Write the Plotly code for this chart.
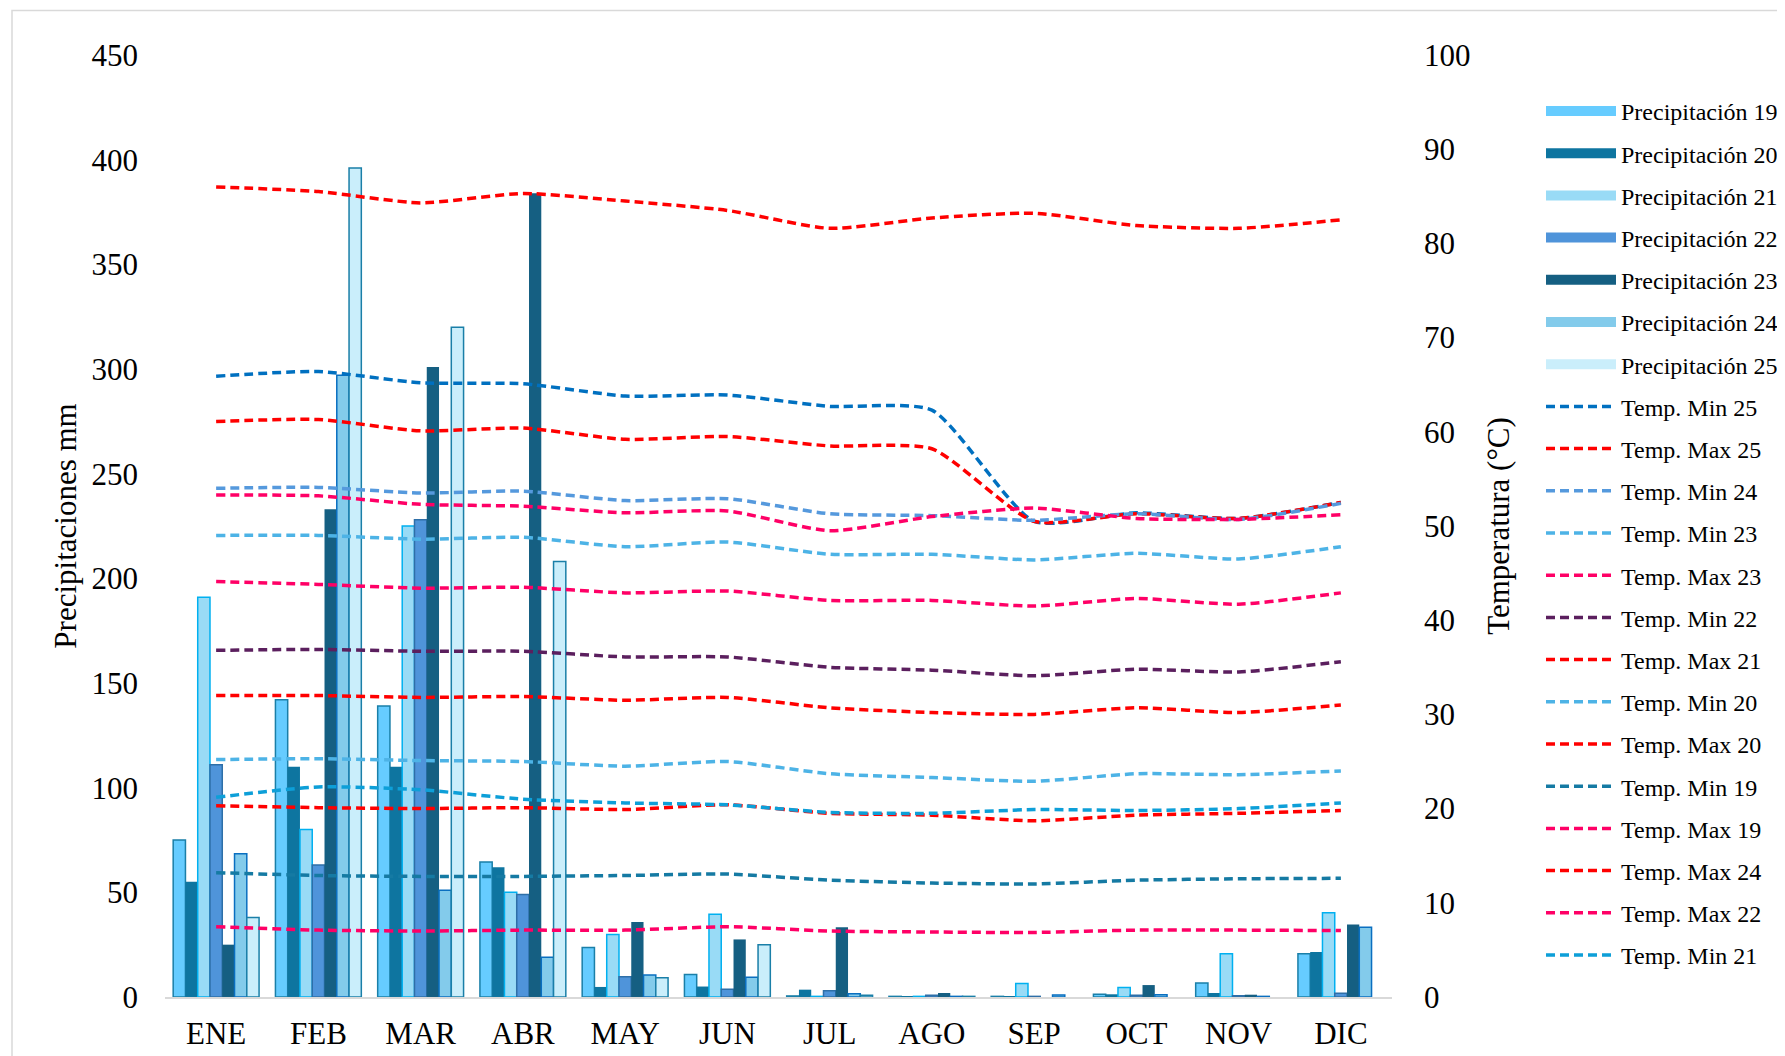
import plotly.graph_objects as go

months = ['ENE', 'FEB', 'MAR', 'ABR', 'MAY', 'JUN', 'JUL', 'AGO', 'SEP', 'OCT', 'NOV', 'DIC']

# Precipitation (mm)
p19 = [75, 142, 139, 64.5, 23.6, 10.7, 0.5, 0.3, 0.3, 1.3, 6.7, 20.7]
p20 = [55, 110, 110, 62, 4.8, 5.0, 3.5, 0.3, 0.3, 1.3, 1.9, 21.5]
p21 = [191, 80, 225, 50, 29.9, 39.5, 0.3, 0.3, 6.4, 4.5, 20.7, 40.3]
p22 = [111, 63, 228, 49, 9.7, 3.7, 3.0, 0.8, 0.3, 0.8, 0.6, 1.8]
p23 = [25, 233, 301, 384, 35.8, 27.5, 33.3, 1.9, None, 5.7, 1.1, 34.6]
p24 = [68.4, 297, 51, 19, 10.5, 9.4, 1.6, 0.3, 1.0, 1.1, 0.3, 33.3]
p25 = [38, 396, 320, 208, 9.2, 25, 0.8, 0.3, None, None, None, None]

# Temperatures (°C, secondary axis)
tmin25 = [65.9, 66.4, 65.2, 65.1, 63.8, 63.9, 62.7, 62.3, 50.5, 51.4, 50.8, 52.5]
tmax25 = [61.1, 61.3, 60.1, 60.4, 59.2, 59.5, 58.5, 58.2, 50.5, 51.3, 50.8, 52.5]
tmin24 = [54.0, 54.1, 53.5, 53.7, 52.7, 52.9, 51.3, 51.1, 50.6, 51.3, 50.7, 52.4]
tmin23 = [49.0, 49.0, 48.6, 48.8, 47.8, 48.3, 47.0, 47.0, 46.4, 47.1, 46.5, 47.8]
tmax23 = [53.3, 53.2, 52.3, 52.1, 51.4, 51.6, 49.5, 51.0, 51.9, 50.8, 50.7, 51.2]
tmin22 = [36.8, 36.9, 36.7, 36.7, 36.1, 36.1, 35.0, 34.7, 34.1, 34.8, 34.5, 35.6]
tmax21 = [32.0, 32.0, 31.8, 31.9, 31.5, 31.8, 30.7, 30.2, 30.0, 30.7, 30.2, 31.0]
tmin20 = [25.2, 25.3, 25.1, 25.0, 24.5, 25.0, 23.7, 23.3, 22.9, 23.7, 23.6, 24.0]
tmax20 = [20.3, 20.1, 20.0, 20.1, 19.9, 20.4, 19.5, 19.3, 18.7, 19.3, 19.5, 19.8]
tmin19 = [13.2, 12.9, 12.8, 12.8, 12.9, 13.05, 12.4, 12.1, 12.0, 12.4, 12.55, 12.6]
tmax19 = [7.46, 7.1, 7.0, 7.1, 7.1, 7.46, 7.0, 6.9, 6.85, 7.1, 7.1, 7.05]
tmax24 = [86.0, 85.5, 84.3, 85.3, 84.5, 83.5, 81.6, 82.7, 83.2, 81.9, 81.6, 82.5]
tmax22 = [44.1, 43.8, 43.4, 43.5, 42.9, 43.1, 42.1, 42.1, 41.5, 42.3, 41.7, 42.9]
tmin21 = [21.2, 22.3, 22.0, 21.0, 20.6, 20.4, 19.6, 19.5, 19.9, 19.8, 20.0, 20.6]

bars = [
    ('Precipitación 19', p19, '#66CCFF', '#1A7FA8', 1.5),
    ('Precipitación 20', p20, '#0E75A0', '#0E75A0', 0),
    ('Precipitación 21', p21, '#99DBF6', '#00B0F0', 1.5),
    ('Precipitación 22', p22, '#4F94DA', '#2E6FA8', 1.5),
    ('Precipitación 23', p23, '#155F82', '#155F82', 0),
    ('Precipitación 24', p24, '#83CBEB', '#0A6FC0', 1.5),
    ('Precipitación 25', p25, '#CAEEFB', '#1A7FA8', 1.5),
]

lines = [
    ('Temp. Min 25', tmin25, '#0070C0'),
    ('Temp. Max 25', tmax25, '#FF0000'),
    ('Temp. Min 24', tmin24, '#5599DD'),
    ('Temp. Min 23', tmin23, '#4DB3E6'),
    ('Temp. Max 23', tmax23, '#FF0066'),
    ('Temp. Min 22', tmin22, '#5B1F5E'),
    ('Temp. Max 21', tmax21, '#FF0000'),
    ('Temp. Min 20', tmin20, '#4DB3E6'),
    ('Temp. Max 20', tmax20, '#FF0000'),
    ('Temp. Min 19', tmin19, '#157AA3'),
    ('Temp. Max 19', tmax19, '#FF0066'),
    ('Temp. Max 24', tmax24, '#FF0000'),
    ('Temp. Max 22', tmax22, '#FF0066'),
    ('Temp. Min 21', tmin21, '#0D9FD8'),
]

FONT = 'Liberation Serif'
fig = go.Figure()

for i, (name, vals, fill, border, bw) in enumerate(bars):
    fig.add_trace(go.Bar(
        x=months, y=vals, name=name, yaxis='y',
        marker=dict(color=fill, line=dict(color=border, width=bw)),
        legendgroup='b%02d' % i, showlegend=False,
    ))
    # legend entry drawn as a wide swatch (no data, legend only)
    fig.add_trace(go.Scatter(
        x=[None], y=[None], name=name, mode='lines', yaxis='y',
        line=dict(color=fill, width=10),
        legendgroup='b%02d' % i, legendrank=i + 1, hoverinfo='skip',
    ))

for j, (name, vals, color) in enumerate(lines):
    fig.add_trace(go.Scatter(
        x=months, y=vals, name=name, yaxis='y2', mode='lines',
        line=dict(color=color, width=3.5, dash='9px,5px', shape='spline', smoothing=0.6),
        legendgroup='l%02d' % j, legendrank=20 + j,
    ))

# page has an 8px body margin; shift everything to compensate
OFF = 8
W, H = 1785 - OFF, 1056 - OFF
L, R, T, B = 165 - OFF, 1392 - OFF, 54.6 - OFF, 997 - OFF

fig.update_layout(
    width=W, height=H,
    margin=dict(l=L, r=W - R, t=T, b=H - B, pad=0, autoexpand=False),
    paper_bgcolor='white', plot_bgcolor='white',
    font=dict(family=FONT, size=31, color='black'),
    barmode='group', bargap=0.16, bargroupgap=0,
    xaxis=dict(showgrid=False, showline=True, linecolor='#D9D9D9', linewidth=2,
               ticks='', tickfont=dict(size=31), ticklabelstandoff=8,
               zeroline=False, automargin=False, fixedrange=True),
    yaxis=dict(range=[0, 450], dtick=50, showgrid=False, showline=False, zeroline=False,
               ticks='', tickfont=dict(size=31), ticklabelstandoff=26, automargin=False,
               title=dict(text='Precipitaciones mm', font=dict(size=31), standoff=5)),
    yaxis2=dict(range=[0, 100], dtick=10, overlaying='y', side='right', showgrid=False,
                showline=False, zeroline=False, ticks='', tickfont=dict(size=31),
                ticklabelstandoff=31, automargin=False,
                title=dict(text='Temperatura (°C)', font=dict(size=31), standoff=17)),
    legend=dict(x=(1533 - L) / (R - L), xanchor='left', y=(B - 80.5) / (B - T), yanchor='top',
                font=dict(size=24, family=FONT), itemwidth=70, tracegroupgap=8,
                traceorder='grouped', bgcolor='rgba(0,0,0,0)'),
    showlegend=True,
)

fig.add_shape(type='rect', xref='paper', yref='paper',
              x0=(12 - OFF - L) / (R - L), x1=(W + 20 - L) / (R - L),
              y0=(B - (H + 20)) / (B - T), y1=(B - (10 - OFF)) / (B - T),
              line=dict(color='#D9D9D9', width=1.5), fillcolor='rgba(0,0,0,0)', layer='below')

fig.write_html('out.html')
